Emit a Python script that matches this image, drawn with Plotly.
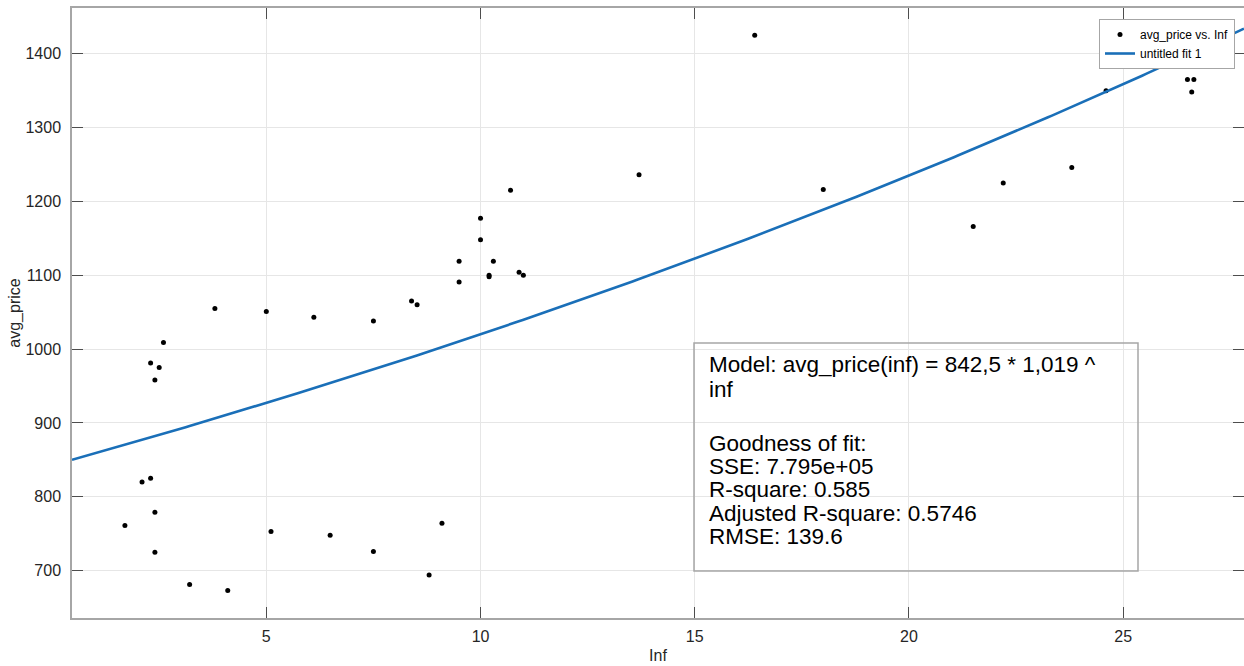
import numpy as np
import plotly.graph_objects as go

# Observations: inflation (Inf) against average price
inf_vals = [1.70, 2.10, 2.30, 2.40, 2.40, 3.21, 4.10, 5.11, 3.80, 5.00,
            6.11, 7.50, 2.60, 2.30, 2.50, 2.40, 6.49, 7.50, 8.39, 8.52,
            9.50, 9.50, 10.00, 10.00, 10.30, 10.20, 10.20, 10.70, 10.90, 11.00,
            13.70, 9.10, 8.80, 16.40, 18.00, 21.50, 22.20, 23.80, 24.60, 26.50,
            26.65, 26.60]
avg_price = [761, 820, 825, 779, 725, 681, 673, 753, 1055, 1051,
             1043, 1038, 1009, 981, 975, 958, 748, 726, 1065, 1060,
             1119, 1091, 1177, 1148, 1119, 1100, 1098, 1215, 1104, 1100,
             1236, 764, 694, 1425, 1216, 1166, 1225, 1246, 1350, 1365,
             1365, 1348]

# Exponential fit: avg_price(inf) = a * b ^ inf
fit_a = 842.5
fit_b = 1.0193

x_range = [0.465, 27.82]
y_range = [635.8, 1461.9]

x_ticks = [5, 10, 15, 20, 25]
y_ticks = [700, 800, 900, 1000, 1100, 1200, 1300, 1400]

fit_text_lines = [
    "Model: avg_price(inf) = 842,5 * 1,019 ^",
    "inf",
    "Goodness of fit:",
    "SSE: 7.795e+05",
    "R-square: 0.585",
    "Adjusted R-square: 0.5746",
    "RMSE: 139.6",
]

W, H = 1244, 666
ML, MR, MT, MB = 72, 0, 8, 48
PW, PH = W - ML - MR, H - MT - MB


def px_x(px):
    return (px - ML) / PW


def px_y(py):
    return (H - MB - py) / PH


xs = np.linspace(x_range[0], x_range[1], 300)
ys = fit_a * fit_b ** xs

font_family = "Liberation Sans, Arial, Helvetica, sans-serif"

fig = go.Figure()
fig.add_trace(go.Scatter(
    x=inf_vals, y=avg_price, mode="markers",
    marker=dict(color="black", size=5),
    name="avg_price vs. Inf",
))
fig.add_trace(go.Scatter(
    x=xs, y=ys, mode="lines",
    line=dict(color="#1a6fb8", width=2.6),
    name="untitled fit 1",
))

axis_common = dict(
    showgrid=True, gridcolor="#e6e6e6", gridwidth=1,
    zeroline=False, showline=True, linecolor="#a6a6a6", linewidth=1.5,
    ticks="inside", ticklen=11, tickwidth=1, tickcolor="#4d4d4d",
    mirror="ticks",
    tickfont=dict(family=font_family, size=16, color="#262626"),
)

fig.update_xaxes(
    range=x_range, tickvals=x_ticks, ticklabelstandoff=3,
    title=dict(text="Inf", font=dict(family=font_family, size=16, color="#262626"),
               standoff=6),
    **axis_common,
)
fig.update_yaxes(
    range=y_range, tickvals=y_ticks, ticklabelstandoff=6,
    title=dict(text="avg_price", font=dict(family=font_family, size=16, color="#262626"),
               standoff=1),
    **axis_common,
)

# Goodness-of-fit text box (transparent, grid shows through)
fig.add_shape(type="rect", xref="paper", yref="paper",
              x0=px_x(694), x1=px_x(1138), y0=px_y(571), y1=px_y(343),
              line=dict(color="#a6a6a6", width=1.5), fillcolor="rgba(0,0,0,0)")

line_centers = [364, 389, 443, 466, 489.5, 513, 536]
for text, cy in zip(fit_text_lines, line_centers):
    fig.add_annotation(
        text=text, xref="paper", yref="paper", x=px_x(707), y=px_y(cy),
        xanchor="left", yanchor="middle", showarrow=False,
        font=dict(family=font_family, size=22.5, color="black"),
    )

fig.update_layout(
    width=W, height=H,
    margin=dict(l=ML, r=MR, t=MT, b=MB, autoexpand=False),
    paper_bgcolor="white", plot_bgcolor="white",
    showlegend=True,
    legend=dict(
        x=px_x(1235), y=px_y(19), xanchor="right", yanchor="top",
        bgcolor="white", bordercolor="#a6a6a6", borderwidth=1,
        font=dict(family=font_family, size=12, color="black"),
        tracegroupgap=0, itemwidth=30,
    ),
)

fig.write_html("out.html")
